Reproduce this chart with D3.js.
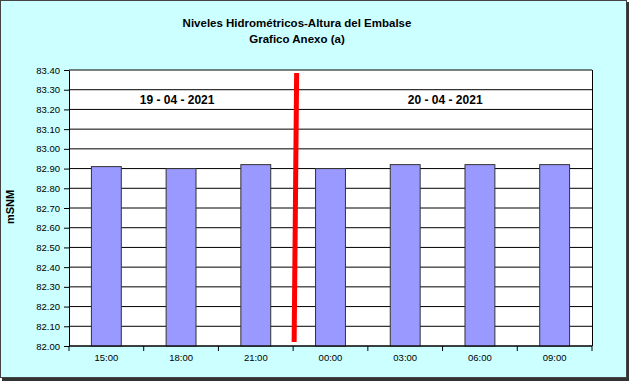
<!DOCTYPE html>
<html>
<head>
<meta charset="utf-8">
<script src="https://cdn.jsdelivr.net/npm/d3@7"></script>
<style>
  body { margin: 0; background: #ffffff; }
  text { font-family: Arial, "Liberation Sans", sans-serif; }
</style>
</head>
<body>
<div id="chart"></div>
<script>
// data
var horas = ['15:00', '18:00', '21:00', '00:00', '03:00', '06:00', '09:00'];
var niveles = [82.91, 82.90, 82.92, 82.90, 82.92, 82.92, 82.92];
var yTicks = [82.00, 82.10, 82.20, 82.30, 82.40, 82.50, 82.60, 82.70, 82.80, 82.90, 83.00, 83.10, 83.20, 83.30, 83.40];
var fechas = ['19 - 04 - 2021', '20 - 04 - 2021'];
var titulo = ['Niveles Hidrométricos-Altura del Embalse', 'Grafico Anexo (a)'];
// separator between days: after this category index, from/to these levels
var cambioDia = [3, 83.385, 82.02];

var W = 631, H = 384;
var margin = {top: 70, right: 39, bottom: 38, left: 69},
    width = W - margin.left - margin.right,
    height = H - margin.top - margin.bottom;

var svg = d3.select('#chart').append('svg')
    .attr('width', W)
    .attr('height', H);

// outer frame with shadow
svg.append('rect')
    .attr('x', 2).attr('y', 2)
    .attr('width', 627).attr('height', 379)
    .attr('fill', '#333');
svg.append('rect')
    .attr('x', 0.5).attr('y', 0.5)
    .attr('width', 626).attr('height', 377)
    .attr('fill', '#ccffff')
    .attr('stroke', '#444')
    .attr('stroke-width', 1);

// title
svg.selectAll('.titulo')
    .data(titulo)
    .enter().append('text')
    .attr('class', 'titulo')
    .attr('x', 297)
    .attr('y', function(d, i) { return 27 + i * 16; })
    .attr('text-anchor', 'middle')
    .style('font-size', '11.5px')
    .style('font-weight', 'bold')
    .text(function(d) { return d; });

var x = d3.scaleBand()
    .domain(horas)
    .range([0, width])
    .paddingInner(0.6)
    .paddingOuter(0.3);

var y = d3.scaleLinear()
    .domain([82.0, 83.4])
    .range([height, 0]);

var g = svg.append('g')
    .attr('transform', 'translate(' + margin.left + ',' + margin.top + ')');

// plot background
g.append('rect')
    .attr('width', width)
    .attr('height', height)
    .attr('fill', '#ffffff');

// grid lines
g.selectAll('.grid')
    .data(yTicks)
    .enter().append('line')
    .attr('class', 'grid')
    .attr('x1', 0).attr('x2', width)
    .attr('y1', function(d) { return y(d); })
    .attr('y2', function(d) { return y(d); })
    .attr('stroke', '#000')
    .attr('stroke-width', 1);

// bars
g.selectAll('.bar')
    .data(niveles)
    .enter().append('rect')
    .attr('class', 'bar')
    .attr('x', function(d, i) { return x(horas[i]); })
    .attr('width', x.bandwidth())
    .attr('y', function(d) { return y(d); })
    .attr('height', function(d) { return height - y(d); })
    .attr('fill', '#9999ff')
    .attr('stroke', '#333')
    .attr('stroke-width', 1);

// plot border (right side)
g.append('line')
    .attr('x1', width + 0.5).attr('x2', width + 0.5)
    .attr('y1', 0).attr('y2', height)
    .attr('stroke', '#000');

// y axis
var yAxis = g.append('g')
    .call(d3.axisLeft(y).tickValues(yTicks).tickFormat(d3.format('.2f')).tickSize(5).tickSizeOuter(0));
yAxis.select('.domain').attr('stroke', '#000');
yAxis.selectAll('text')
    .style('font-size', '9.5px')
    .attr('fill', '#000')
    .attr('x', -9);

// x axis, ticks at category boundaries
var step = x.step();
var xAxis = g.append('g')
    .attr('transform', 'translate(0,' + height + ')');
xAxis.append('line')
    .attr('x1', 0).attr('x2', width)
    .attr('stroke', '#000');
xAxis.selectAll('.tick')
    .data(d3.range(horas.length + 1))
    .enter().append('line')
    .attr('class', 'tick')
    .attr('x1', function(i) { return i * step; })
    .attr('x2', function(i) { return i * step; })
    .attr('y1', 0).attr('y2', 5)
    .attr('stroke', '#000');
xAxis.selectAll('.lbl')
    .data(horas)
    .enter().append('text')
    .attr('class', 'lbl')
    .attr('x', function(d) { return x(d) + x.bandwidth() / 2; })
    .attr('y', 15)
    .attr('text-anchor', 'middle')
    .style('font-size', '9.5px')
    .text(function(d) { return d; });

// red separator between days
var xSep = cambioDia[0] * step;
g.append('line')
    .attr('x1', xSep + 3.5).attr('y1', y(cambioDia[1]))
    .attr('x2', xSep + 1).attr('y2', y(cambioDia[2]))
    .attr('stroke', '#ff0000')
    .attr('stroke-width', 5);

// day labels
g.selectAll('.fecha')
    .data(fechas)
    .enter().append('text')
    .attr('class', 'fecha')
    .attr('x', function(d, i) { return i == 0 ? x(horas[1]) + x.bandwidth() / 2 - 4 : x(horas[4]) + x.bandwidth() / 2 + 40; })
    .attr('y', y(83.23))
    .attr('text-anchor', 'middle')
    .style('font-size', '12px')
    .style('font-weight', 'bold')
    .text(function(d) { return d; });

// y axis title
svg.append('text')
    .attr('transform', 'translate(14,' + (margin.top + height / 2 - 1) + ') rotate(-90)')
    .attr('text-anchor', 'middle')
    .style('font-size', '11px')
    .style('font-weight', 'bold')
    .text('mSNM');
</script>
</body>
</html>
